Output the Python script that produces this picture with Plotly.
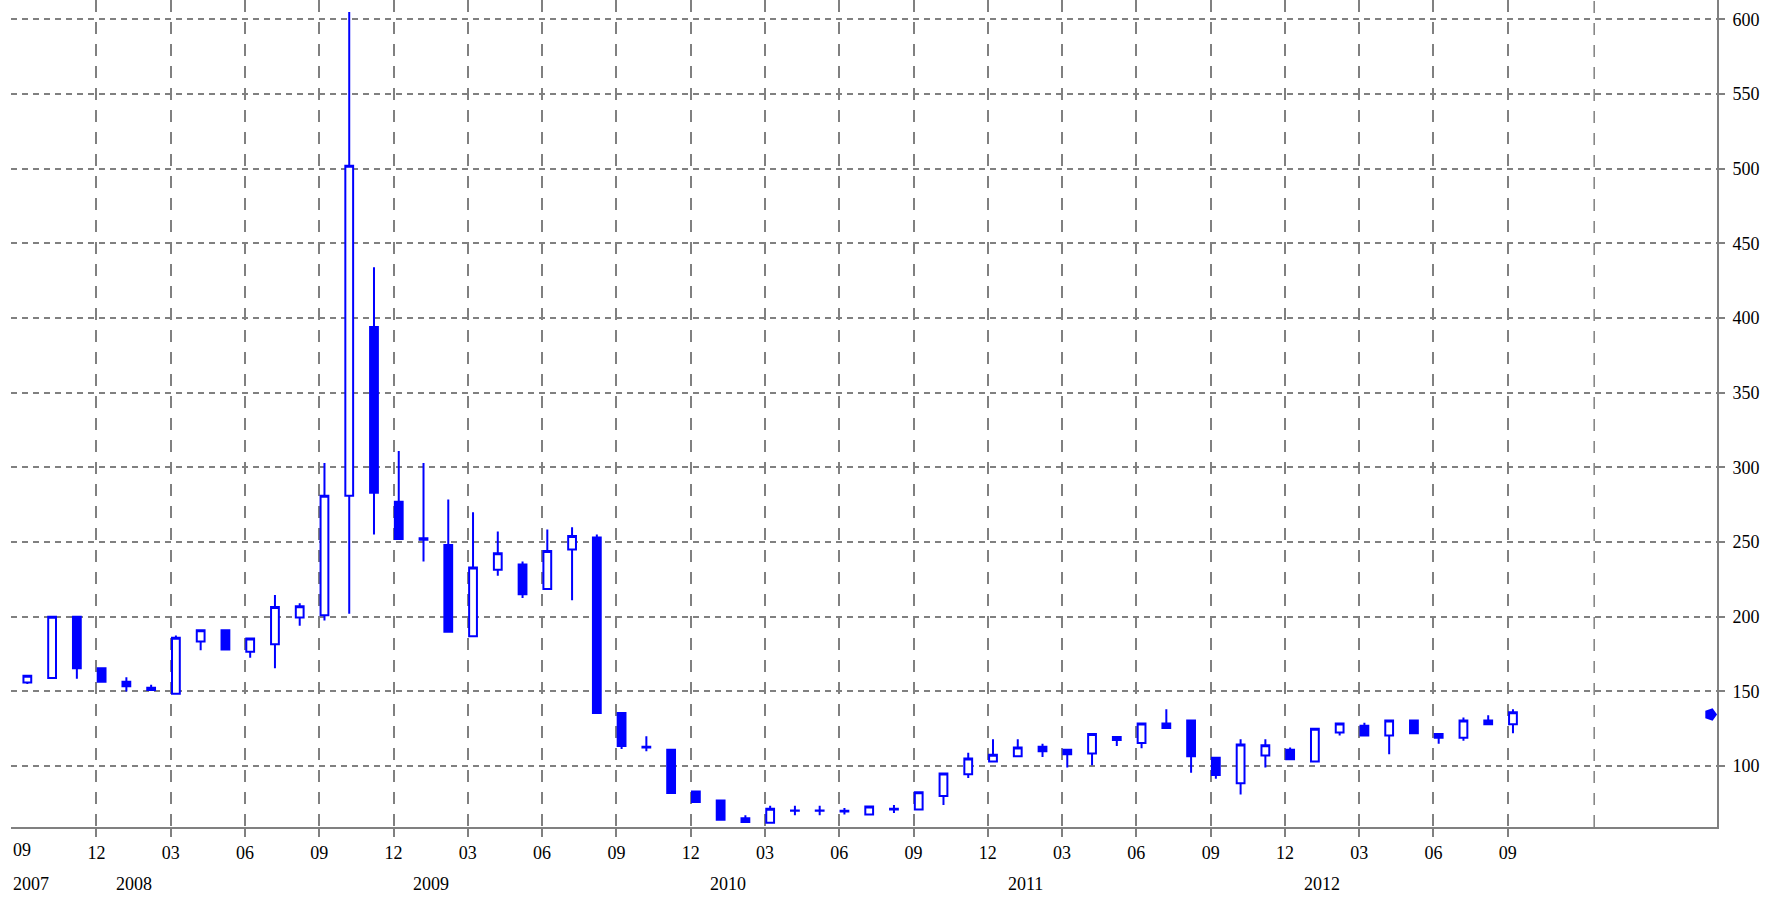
import plotly.graph_objects as go
import pandas as pd

# ---------------- data ----------------
months = pd.period_range("2007-09", "2012-09", freq="M")
month_labels = [f"{p.month:02d}" for p in months]
month_years = [p.year for p in months]

open_ = [156, 159, 200, 165.5, 156.5, 152.5, 148.5, 183.5, 191, 176.5,
         181.5, 199.5, 201, 281, 394, 277, 252.5, 248, 187, 231.5,
         235, 218.5, 245, 253, 135.5, 113, 111, 83, 77, 65,
         62, 70, 70, 70, 67.5, 71, 71, 80, 94.5, 103,
         106.5, 113, 111, 108.5, 119.5, 115.5, 128.5, 130.5, 105.5, 88.5,
         107, 111, 103, 122.5, 127, 120.5, 130.5, 121.5, 119, 130.5,
         128]
high_ = [161, 200, 200, 165.5, 159.5, 154.5, 187.5, 191, 191, 186,
         214.5, 209, 303, 605, 434, 311, 303, 278.5, 270, 257,
         237, 258.5, 260, 255, 136, 120, 111, 83, 77, 67,
         73.5, 73.5, 73.5, 72, 73, 74, 83, 95, 109, 118,
         118, 115, 111, 121.5, 119.5, 128.5, 138, 130.5, 105.5, 118,
         118, 112.5, 125, 128.5, 129, 130.5, 130.5, 121.5, 132.5, 134,
         138]
low_ = [155, 158.5, 158.5, 156.5, 150, 150.5, 148.5, 177.5, 178, 172.5,
        165.5, 194, 197.5, 202, 255, 251.5, 237, 190, 187, 227.5,
        212.5, 218.5, 211, 135, 111.5, 110, 81.5, 76, 63.5, 62,
        62, 67, 67, 67.5, 67.5, 68.5, 71, 74, 92, 103,
        106.5, 106, 99, 100.5, 113.5, 112, 125, 95.5, 91.5, 81,
        99, 104.5, 103, 120.5, 120.5, 108, 122, 115, 117, 128,
        122]
close_ = [160.5, 200, 165.5, 156.5, 153.5, 151, 186, 191, 178, 185.5,
          206.5, 207, 281, 502, 283, 252, 251.5, 190, 233, 242.5,
          215, 244, 254, 135.5, 113.5, 112.5, 82, 76, 64, 62.5,
          71.5, 70.2, 70.2, 69.5, 73, 71.5, 82.5, 95, 105, 107.5,
          112.5, 110, 108, 121.5, 117.5, 128.5, 125.5, 106.5, 94, 114.5,
          114, 104.5, 125, 128.5, 120.5, 130.5, 122, 119, 130.5, 128,
          136]
last_price = 134.5

y_ticks = [100, 150, 200, 250, 300, 350, 400, 450, 500, 550, 600]

# ---------------- layout constants ----------------
BLUE = "#0000ff"
GRID = "#808080"
FONT = dict(family="Liberation Serif", size=18, color="#000000")
TICK_OFFSET = -0.21
YEAR_OFFSET = 0.3
X_RANGE = [-0.66, 68.24]
Y_RANGE = [59.2, 613]
EXTRA_GRID_X = 63.28

x = list(range(len(months)))

fig = go.Figure()
fig.add_trace(go.Candlestick(
    x=x, open=open_, high=high_, low=low_, close=close_,
    increasing=dict(line=dict(color=BLUE, width=2), fillcolor="#ffffff"),
    decreasing=dict(line=dict(color=BLUE, width=2), fillcolor=BLUE),
    whiskerwidth=0, showlegend=False, hoverinfo="skip",
))
# last price marker at the right edge
fig.add_trace(go.Scatter(
    x=[X_RANGE[1] - 0.26], y=[last_price], mode="markers",
    marker=dict(symbol="pentagon", angle=90, size=13, color=BLUE),
    cliponaxis=False, showlegend=False, hoverinfo="skip",
))

tick_idx = [i for i, p in enumerate(months) if p.month in (3, 6, 9, 12) and i > 0]
tickvals = [i + TICK_OFFSET for i in tick_idx]
ticktext = [month_labels[i] for i in tick_idx]

annotations = []
# first month label (no grid line in reference)
annotations.append(dict(x=0 + TICK_OFFSET, y=0, xref="x", yref="paper",
                        text=month_labels[0], showarrow=False, yanchor="top",
                        xanchor="center", yshift=-11, font=FONT))
# year labels
seen = set()
for i, yv in enumerate(month_years):
    if yv in seen:
        continue
    seen.add(yv)
    if i == 0:
        annotations.append(dict(x=X_RANGE[0], y=0, xref="x", yref="paper",
                                text=str(yv), showarrow=False, yanchor="top",
                                xanchor="left", yshift=-45, font=FONT))
    else:
        annotations.append(dict(x=i + YEAR_OFFSET, y=0, xref="x", yref="paper",
                                text=str(yv), showarrow=False, yanchor="top",
                                xanchor="center", yshift=-45, font=FONT))

fig.update_layout(
    width=1791, height=900,
    margin=dict(l=11, r=74, t=0, b=73),
    paper_bgcolor="#ffffff", plot_bgcolor="#ffffff",
    font=FONT,
    boxgap=0.55,
    annotations=annotations,
    shapes=[dict(type="line", xref="x", yref="paper", x0=EXTRA_GRID_X, x1=EXTRA_GRID_X,
                 y0=0, y1=1, line=dict(color=GRID, width=1.5, dash="12px,10px"), layer="below")],
    xaxis=dict(range=X_RANGE, type="linear", tickmode="array", tickvals=tickvals,
               ticktext=ticktext, showgrid=True, gridcolor=GRID, gridwidth=1.5,
               griddash="12px,10px", ticks="outside", ticklen=8, tickwidth=1.5,
               tickcolor=GRID, showline=True, linecolor=GRID, linewidth=2,
               zeroline=False, rangeslider=dict(visible=False), tickfont=FONT,
               fixedrange=True),
    yaxis=dict(range=Y_RANGE, side="right", tickmode="array", tickvals=y_ticks,
               showgrid=True, gridcolor=GRID, gridwidth=1.5, griddash="6px,5px",
               ticks="outside", ticklen=6, tickwidth=1.5, tickcolor=GRID,
               showline=True, linecolor=GRID, linewidth=2, zeroline=False,
               ticklabelstandoff=4, tickfont=FONT, fixedrange=True),
)

fig.write_html("out.html", config={"displayModeBar": False},
               post_script="document.body.style.margin='0';")
